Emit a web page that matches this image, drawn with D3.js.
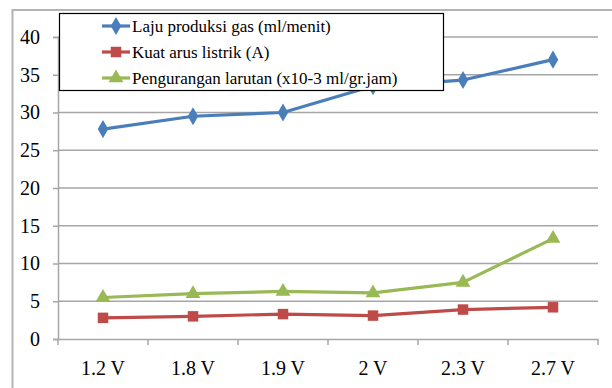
<!DOCTYPE html>
<html>
<head>
<meta charset="utf-8">
<script src="https://cdn.jsdelivr.net/npm/d3@7/dist/d3.min.js"></script>
<style>
  html, body { margin: 0; padding: 0; background: #fff; }
  svg { display: block; }
  svg text { font-family: "Liberation Serif", "DejaVu Serif", serif; fill: #000; }
</style>
</head>
<body>
<svg id="chart" width="612" height="388"></svg>
<script>
// Voltage categories on the x axis
const categories = ["1.2 V", "1.8 V", "1.9 V", "2 V", "2.3 V", "2.7 V"];

// Series values
const lajuGas = [27.8, 29.5, 30.0, 33.5, 34.3, 37.0];
const kuatArus = [2.8, 3.0, 3.3, 3.1, 3.9, 4.2];
const pengurangan = [5.5, 6.0, 6.3, 6.1, 7.5, 13.3];

const seriesNames = [
  "Laju produksi gas (ml/menit)",
  "Kuat arus listrik (A)",
  "Pengurangan larutan (x10-3 ml/gr.jam)"
];

const yTicks = [0, 5, 10, 15, 20, 25, 30, 35, 40];

const series = [
  { name: seriesNames[0], values: lajuGas, color: "#4a7ebb", marker: "diamond" },
  { name: seriesNames[1], values: kuatArus, color: "#be4b48", marker: "square" },
  { name: seriesNames[2], values: pengurangan, color: "#98b954", marker: "triangle" }
];

const svg = d3.select("#chart");
const font = "Liberation Serif, DejaVu Serif, serif";

// Outer chart frame
svg.append("rect")
  .attr("x", 12.5).attr("y", 10).attr("width", 640).attr("height", 400)
  .attr("fill", "#fff").attr("stroke", "#b4b4b4").attr("stroke-width", 2);

const plot = { left: 58, right: 598, top: 37, bottom: 339 };

const x = d3.scaleBand().domain(categories).range([plot.left, plot.right]).padding(0);
const y = d3.scaleLinear().domain([0, 40]).range([plot.bottom, plot.top]);

// Horizontal gridlines
svg.append("g")
  .selectAll("line")
  .data(yTicks.filter(d => d > 0))
  .join("line")
  .attr("x1", plot.left).attr("x2", plot.right)
  .attr("y1", d => y(d)).attr("y2", d => y(d))
  .attr("stroke", "#a6a6a6").attr("stroke-width", 1.5);

// Y axis
const yAxis = svg.append("g")
  .attr("transform", `translate(${plot.left},0)`)
  .call(d3.axisLeft(y).tickValues(yTicks).tickSize(5).tickPadding(13).tickFormat(d3.format("d")));
yAxis.attr("font-family", null).attr("font-size", null);
yAxis.select(".domain").attr("stroke", "#a6a6a6").attr("stroke-width", 1.5);
yAxis.selectAll(".tick line").attr("stroke", "#a6a6a6").attr("stroke-width", 1.5);
yAxis.selectAll(".tick text")
  .style("font-family", font).style("font-size", "20px").attr("fill", "#000");

// X axis with tick marks at category boundaries
const xAxisG = svg.append("g").attr("transform", `translate(0,${plot.bottom})`);
xAxisG.call(d3.axisBottom(x).tickSize(0).tickPadding(22));
xAxisG.attr("font-family", null).attr("font-size", null);
xAxisG.select(".domain").attr("stroke", "#a6a6a6").attr("stroke-width", 1.5);
xAxisG.selectAll(".tick text")
  .style("font-family", font).style("font-size", "20px").attr("fill", "#000");
const boundaries = categories.map(c => x(c)).concat([x(categories[categories.length - 1]) + x.bandwidth()]);
xAxisG.selectAll(".bound")
  .data(boundaries)
  .join("line")
  .attr("class", "bound")
  .attr("x1", d => d).attr("x2", d => d)
  .attr("y1", 0).attr("y2", 6)
  .attr("stroke", "#a6a6a6").attr("stroke-width", 1.5);

const cx = c => x(c) + x.bandwidth() / 2;

function markerPath(type) {
  if (type === "diamond") return d3.symbol(d3.symbolDiamond, 95)();
  if (type === "square") return d3.symbol(d3.symbolSquare, 110)();
  return d3.symbol(d3.symbolTriangle, 95)();
}

// Lines and markers
const line = d3.line().x((d, i) => cx(categories[i])).y(d => y(d));
series.forEach(s => {
  svg.append("path")
    .datum(s.values)
    .attr("d", line)
    .attr("fill", "none")
    .attr("stroke", s.color)
    .attr("stroke-width", 3.2)
    .attr("stroke-linejoin", "round");
  svg.append("g")
    .selectAll("path")
    .data(s.values)
    .join("path")
    .attr("d", markerPath(s.marker))
    .attr("transform", (d, i) => `translate(${cx(categories[i])},${y(d)})`)
    .attr("fill", s.color);
});

// Legend
const legend = svg.append("g");
legend.append("rect")
  .attr("x", 59.5).attr("y", 13.5).attr("width", 384).attr("height", 77)
  .attr("fill", "#fff").attr("stroke", "#000").attr("stroke-width", 1.2);
series.forEach((s, i) => {
  const ly = 26 + i * 26;
  legend.append("line")
    .attr("x1", 102).attr("x2", 130).attr("y1", ly).attr("y2", ly)
    .attr("stroke", s.color).attr("stroke-width", 3.2);
  legend.append("path")
    .attr("d", markerPath(s.marker))
    .attr("transform", `translate(116,${ly})`)
    .attr("fill", s.color);
  legend.append("text")
    .attr("x", 132).attr("y", ly)
    .attr("dy", "0.35em")
    .style("font-family", font).style("font-size", "17px").attr("fill", "#000")
    .text(s.name);
});
</script>
</body>
</html>
